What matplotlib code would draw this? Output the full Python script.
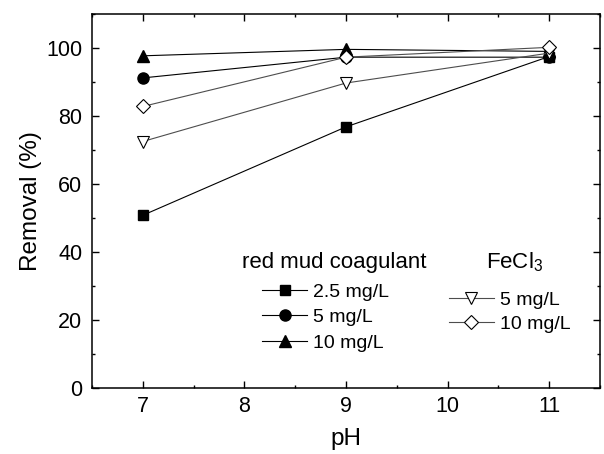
import matplotlib
matplotlib.use("Agg")
import matplotlib.pyplot as plt
from matplotlib.ticker import MultipleLocator

plt.rcParams['font.family'] = ['Liberation Sans', 'DejaVu Sans']
plt.rcParams['mathtext.fontset'] = 'custom'
plt.rcParams['mathtext.rm'] = 'Liberation Sans'
plt.rcParams['mathtext.default'] = 'regular'

# data
ph = [7, 9, 11]
rm_25 = [50.8, 76.8, 97.5]
rm_5 = [91.2, 97.3, 97.3]
rm_10 = [97.7, 99.6, 99.0]
fe_5 = [72.5, 89.7, 98.5]
fe_10 = [82.8, 97.3, 100.2]

fig = plt.figure(figsize=(6.04, 4.54), dpi=100)
ax = fig.add_axes([92/604, 66/454, 508/604, 374/454])

lw = 0.8
l1, = ax.plot(ph, rm_25, color='k', lw=lw, marker='s', ms=7.8, mfc='k', mec='k')
l2, = ax.plot(ph, rm_5, color='k', lw=lw, marker='o', ms=8, mfc='k', mec='k')
l3, = ax.plot(ph, rm_10, color='k', lw=lw, marker='^', ms=9, mfc='k', mec='k')
l4, = ax.plot(ph, fe_5, color='0.3', lw=lw, marker='v', ms=9, mfc='white', mec='k', mew=0.8)
l5, = ax.plot(ph, fe_10, color='0.3', lw=lw, marker='D', ms=7, mfc='white', mec='k', mew=0.8)

ax.set_xlim(6.5, 11.5)
ax.set_ylim(0, 110)
ax.xaxis.set_major_locator(MultipleLocator(1))
ax.xaxis.set_minor_locator(MultipleLocator(0.5))
ax.yaxis.set_major_locator(MultipleLocator(20))
ax.yaxis.set_minor_locator(MultipleLocator(10))
ax.tick_params(which='both', direction='in', top=True, right=True, labelsize=15.5, width=1)
ax.tick_params(which='major', length=5)
ax.tick_params(which='minor', length=2.5)
ax.tick_params(axis='x', which='major', pad=6)
ax.tick_params(axis='y', which='major', pad=7)
for s in ax.spines.values():
    s.set_linewidth(1.1)

ax.set_xlabel('pH', fontsize=17.5, labelpad=8)
ax.set_ylabel('Removal (%)', fontsize=17.5, labelpad=3)

# legend titles as free text, entries as two title-less legends
ax.text(0.295, 0.321, 'red mud coagulant', transform=ax.transAxes, fontsize=16,
        ha='left', va='baseline')
ax.text(0.776, 0.321, 'FeCl$_3$', transform=ax.transAxes, fontsize=16,
        ha='left', va='baseline')

leg_kw = dict(fontsize=14, frameon=False, loc='upper left', borderpad=0,
              borderaxespad=0, handlelength=2.3, handletextpad=0.3)
leg1 = ax.legend([l1, l2, l3], ['2.5 mg/L', '5 mg/L', '10 mg/L'],
                 bbox_to_anchor=(0.335, 0.28), labelspacing=0.4, **leg_kw)
ax.add_artist(leg1)
ax.legend([l4, l5], ['5 mg/L', '10 mg/L'], bbox_to_anchor=(0.703, 0.259),
          labelspacing=0.32, **leg_kw)

fig.savefig('out.png', dpi=100)
